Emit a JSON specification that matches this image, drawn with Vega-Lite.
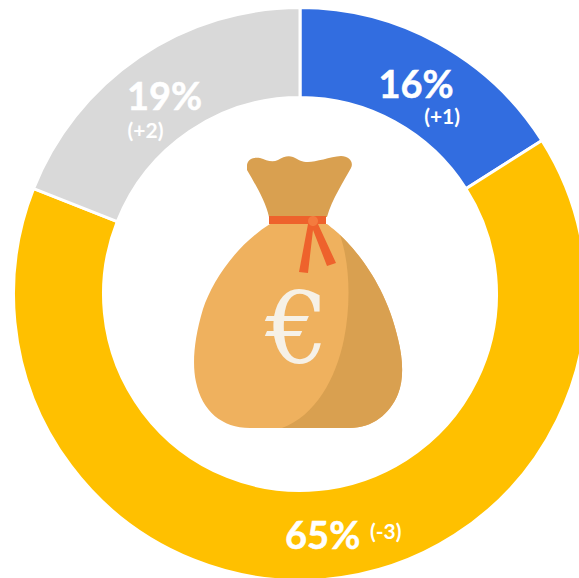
{
  "$schema": "https://vega.github.io/schema/vega-lite/v6.json",
  "width": 579,
  "height": 578,
  "autosize": "none",
  "padding": 0,
  "background": "white",
  "view": {"stroke": null},
  "data": {"values": [
    {"segment": "Blue", "rank": 1, "share": 16, "label": "16%", "change": "(+1)"},
    {"segment": "Yellow", "rank": 2, "share": 65, "label": "65%", "change": "(-3)"},
    {"segment": "Grey", "rank": 3, "share": 19, "label": "19%", "change": "(+2)"}
  ]},
  "encoding": {
    "x": {"datum": 0, "type": "quantitative", "scale": {"domain": [-300, 279]}, "axis": null},
    "y": {"datum": 0, "type": "quantitative", "scale": {"domain": [-284, 294]}, "axis": null}
  },
  "layer": [
    {
      "mark": {"type": "arc", "radius": 286.5, "radius2": 196.5, "stroke": "white", "strokeWidth": 3},
      "encoding": {
        "theta": {"field": "share", "type": "quantitative", "stack": true},
        "order": {"field": "rank", "type": "quantitative"},
        "color": {"field": "segment", "type": "nominal", "legend": null,
          "scale": {"domain": ["Blue", "Yellow", "Grey"], "range": ["#326DE0", "#FFC000", "#D9D9D9"]}}
      }
    },
    {
      "mark": {"type": "text", "radius": 241, "font": "Lato", "fontWeight": "bold", "fontSize": 38, "color": "white", "stroke": "white", "strokeWidth": 0.5, "align": "center", "baseline": "middle", "dy": 4},
      "encoding": {
        "theta": {"field": "share", "type": "quantitative", "stack": true},
        "order": {"field": "rank", "type": "quantitative"},
        "text": {"field": "label", "type": "nominal"}
      }
    },
    {
      "mark": {"type": "text", "radius": 241, "font": "Lato", "fontWeight": "bold", "fontSize": 21, "color": "white", "align": "center", "baseline": "middle",
        "dx": {"expr": "datum.segment === 'Blue' ? 26 : datum.segment === 'Grey' ? -19 : 63"},
        "dy": {"expr": "datum.segment === 'Blue' ? 35 : datum.segment === 'Grey' ? 37 : -1"}},
      "encoding": {
        "theta": {"field": "share", "type": "quantitative", "stack": true},
        "order": {"field": "rank", "type": "quantitative"},
        "text": {"field": "change", "type": "nominal"}
      }
    },
    {
      "data": {"values": [{"part": "body"}]},
      "mark": {"type": "point", "filled": true, "opacity": 1, "size": 4, "color": "#EFB15E",
        "shape": "M-30,-70 L27,-70 C32,-66 40,-60 47,-52 C65,-33 88,0 98,45 C103,65 104,85 98,100 C90,120 72,134 50,134 L-50,134 C-78,134 -98,117 -104,88 C-108,70 -106,45 -97,15 C-88,-12 -65,-48 -30,-70 Z"}
    },
    {
      "data": {"values": [{"part": "shade"}]},
      "mark": {"type": "point", "filled": true, "opacity": 1, "size": 4, "color": "#D9A050",
        "shape": "M40,-59 C50,-30 51,10 44,45 C36,85 15,122 -18,134 L50,134 C72,134 90,120 98,100 C104,85 103,65 98,45 C88,0 65,-33 47,-52 Z"}
    },
    {
      "data": {"values": [{"part": "neck"}]},
      "mark": {"type": "point", "filled": true, "opacity": 1, "size": 4, "color": "#D9A050",
        "shape": "M-53,-129 C-52,-136 -45,-137 -40,-136 C-34,-134 -28,-131 -22,-134 C-17,-137 -12,-139 -7,-137 C-1,-134 2,-132 8,-132 C16,-132 30,-137 41,-138 C49,-138 54,-132 51,-126 C44,-113 32,-95 27,-77 L-31,-77 C-34,-92 -46,-112 -53,-124 Z"}
    },
    {
      "data": {"values": [{"part": "ribbon"}]},
      "mark": {"type": "point", "filled": true, "opacity": 1, "size": 4, "color": "#EE622C",
        "shape": "M-31,-78 L26,-78 L26,-70 L18,-70 L36,-31 L27,-28 L13,-64 L8,-21 L-1,-22 L8,-70 L-31,-70 Z"}
    },
    {
      "data": {"values": [{"part": "knot"}]},
      "mark": {"type": "point", "filled": true, "opacity": 1, "size": 4, "color": "#F47B3E",
        "shape": "M8,-73 A5,5 0 1 0 18,-73 A5,5 0 1 0 8,-73 Z"}
    },
    {
      "data": {"values": [{"symbol": "€"}]},
      "mark": {"type": "text", "font": "DejaVu Serif", "fontSize": 100, "color": "#F6F1E7", "align": "center", "baseline": "middle", "dx": -3, "dy": 39},
      "encoding": {"text": {"field": "symbol", "type": "nominal"}}
    }
  ]
}
